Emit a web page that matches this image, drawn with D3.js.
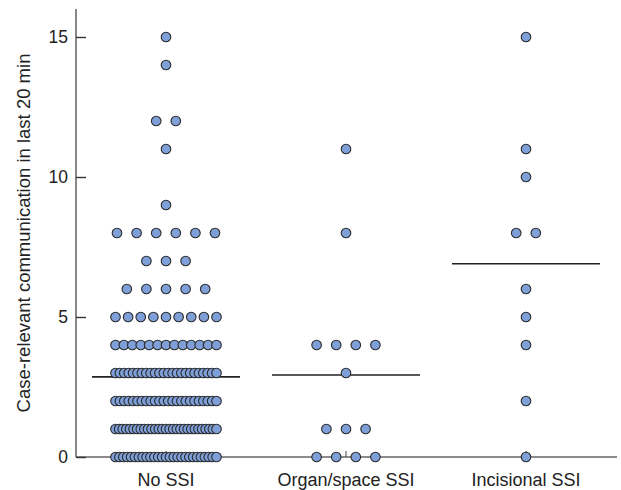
<!DOCTYPE html>
<html>
<head>
<meta charset="utf-8">
<script src="https://cdn.jsdelivr.net/npm/d3@7"></script>
<style>
  body { margin: 0; background: #fff; }
  svg { font-family: "Liberation Sans", Arial, sans-serif; }
</style>
</head>
<body>
<div id="chart"></div>
<script>
// groups along the x axis
var categories = ["No SSI", "Organ/space SSI", "Incisional SSI"];

// observations: value level -> number of cases at that level
var noSsiLevels   = [0, 1, 2, 3, 4, 5, 6, 7, 8, 9, 11, 12, 14, 15];
var noSsiCounts   = [27, 29, 24, 24, 13, 9, 5, 3, 6, 1, 1, 2, 1, 1];
var organLevels   = [0, 1, 3, 4, 8, 11];
var organCounts   = [4, 3, 1, 4, 1, 1];
var incisLevels   = [0, 2, 4, 5, 6, 8, 10, 11, 15];
var incisCounts   = [1, 1, 1, 1, 1, 2, 1, 1, 1];

var yTicks = [0, 5, 10, 15];

var width = 621, height = 490;
var margin = {top: 9, right: 5, bottom: 33, left: 76};

var svg = d3.select("#chart").append("svg")
    .attr("width", width).attr("height", height);

var x = d3.scalePoint().domain(categories)
    .range([margin.left, width - margin.right]).padding(0.5);
var y = d3.scaleLinear().domain([0, 16])
    .range([height - margin.bottom, margin.top]);

var groups = [
  {name: categories[0], levels: noSsiLevels, counts: noSsiCounts},
  {name: categories[1], levels: organLevels, counts: organCounts},
  {name: categories[2], levels: incisLevels, counts: incisCounts}
];

// x axis line + category ticks (pointing up)
svg.append("line")
    .attr("x1", margin.left).attr("x2", width - 4)
    .attr("y1", y(0)).attr("y2", y(0))
    .attr("stroke", "#666").attr("stroke-width", 1.6);
svg.selectAll(".xtick").data(categories).enter().append("line")
    .attr("class", "xtick")
    .attr("x1", function(d) { return x(d); }).attr("x2", function(d) { return x(d); })
    .attr("y1", y(0)).attr("y2", y(0) - 6)
    .attr("stroke", "#444").attr("stroke-width", 1);
svg.selectAll(".xlab").data(categories).enter().append("text")
    .attr("class", "xlab")
    .attr("x", function(d) { return x(d); })
    .attr("y", y(0) + 29)
    .attr("text-anchor", "middle")
    .style("font-size", "18px").style("fill", "#222")
    .text(function(d) { return d; });

// y axis, ticks inward
var yAxis = svg.append("g")
    .attr("transform", "translate(" + margin.left + ",0)")
    .call(d3.axisRight(y).tickValues(yTicks).tickSize(10).tickFormat(""));
yAxis.select(".domain").attr("stroke", "#555").attr("stroke-width", 1.4)
    .attr("d", "M0," + y(16) + "V" + y(0));
yAxis.selectAll(".tick line").attr("stroke", "#333").attr("stroke-width", 1.4);
svg.selectAll(".ylab").data(yTicks).enter().append("text")
    .attr("class", "ylab")
    .attr("x", margin.left - 8)
    .attr("y", function(d) { return y(d) + 6; })
    .attr("text-anchor", "end")
    .style("font-size", "17.5px").style("fill", "#222")
    .text(function(d) { return d; });

svg.append("text")
    .attr("transform", "translate(30,233) rotate(-90)")
    .attr("text-anchor", "middle")
    .style("font-size", "18.5px").style("fill", "#222")
    .text("Case-relevant communication in last 20 min");

// spread dots of a level horizontally, squeezed when many
var dots = [], means = [];
groups.forEach(function(g) {
  var cx = x(g.name), all = [];
  g.levels.forEach(function(v, k) {
    var n = g.counts[k];
    var step = n > 1 ? Math.min(19.6, 101 / (n - 1)) : 0;
    for (var i = 0; i < n; i++) {
      dots.push({x: cx + (i - (n - 1) / 2) * step, v: v});
      all.push(v);
    }
  });
  means.push({name: g.name, m: d3.mean(all)});
});

svg.selectAll(".mean").data(means).enter().append("line")
    .attr("class", "mean")
    .attr("x1", function(d) { return x(d.name) - 74; })
    .attr("x2", function(d) { return x(d.name) + 74; })
    .attr("y1", function(d) { return y(d.m); })
    .attr("y2", function(d) { return y(d.m); })
    .attr("stroke", "#222").attr("stroke-width", 1.6);

svg.selectAll(".dot").data(dots).enter().append("circle")
    .attr("class", "dot")
    .attr("cx", function(d) { return d.x; })
    .attr("cy", function(d) { return y(d.v); })
    .attr("r", 4.8)
    .attr("fill", "#7e9fd8")
    .attr("stroke", "#2a2a2a").attr("stroke-width", 1.1);
</script>
</body>
</html>
